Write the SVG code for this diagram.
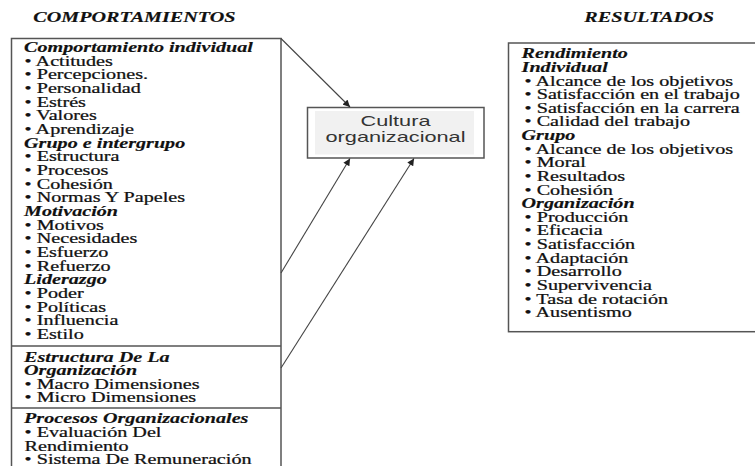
<svg xmlns="http://www.w3.org/2000/svg" width="755" height="466" viewBox="0 0 755 466">
  <defs>
    <marker id="arrow" viewBox="0 0 10 10" refX="10" refY="5" markerWidth="8" markerHeight="7" markerUnits="userSpaceOnUse" orient="auto">
      <path d="M0,0 L10,5 L0,10 z" fill="#222"/>
    </marker>
    <style>
      .t { font-family: "Liberation Serif", "Times New Roman", serif; font-size: 14px; fill: #111; stroke: #111; stroke-width: 0.25; }
      .h { font-weight: bold; font-style: italic; stroke-width: 0.15; }
      .box { fill: #fff; stroke: #555; stroke-width: 1.5; }
      .div { stroke: #555; stroke-width: 1.5; }
      .conn { fill: none; stroke: #444; stroke-width: 1.1; marker-end: url(#arrow); }
      .c { font-family: "Liberation Sans", Arial, sans-serif; font-size: 15px; fill: #333; text-anchor: middle; }
    </style>
  </defs>
  <rect width="755" height="466" fill="#fff"/>

  <!-- column titles -->
  <g id="titles" transform="scale(1.44 1)">
    <text class="t h" x="23.1" y="21.7">COMPORTAMIENTOS</text>
    <text class="t h" x="405.8" y="21.7">RESULTADOS</text>
  </g>

  <!-- left column: behaviour factors -->
  <g id="comportamientos">
    <rect class="box" x="11.5" y="38.5" width="269.5" height="460"/>
    <line class="div" x1="11.5" y1="346" x2="281" y2="346"/>
    <line class="div" x1="11.5" y1="408" x2="281" y2="408"/>
    <g transform="scale(1.44 1)">
      <text class="t h" x="16.7" y="52.2">Comportamiento individual</text>
      <text class="t" x="17.1" y="65.9">• Actitudes</text>
      <text class="t" x="17.1" y="79.5">• Percepciones.</text>
      <text class="t" x="17.1" y="93.2">• Personalidad</text>
      <text class="t" x="17.1" y="106.8">• Estrés</text>
      <text class="t" x="17.1" y="120.5">• Valores</text>
      <text class="t" x="17.1" y="134.2">• Aprendizaje</text>
      <text class="t h" x="16.7" y="147.8">Grupo e intergrupo</text>
      <text class="t" x="17.1" y="161.5">• Estructura</text>
      <text class="t" x="17.1" y="175.1">• Procesos</text>
      <text class="t" x="17.1" y="188.8">• Cohesión</text>
      <text class="t" x="17.1" y="202.5">• Normas Y Papeles</text>
      <text class="t h" x="16.7" y="216.1">Motivación</text>
      <text class="t" x="17.1" y="229.8">• Motivos</text>
      <text class="t" x="17.1" y="243.4">• Necesidades</text>
      <text class="t" x="17.1" y="257.1">• Esfuerzo</text>
      <text class="t" x="17.1" y="270.8">• Refuerzo</text>
      <text class="t h" x="16.7" y="284.4">Liderazgo</text>
      <text class="t" x="17.1" y="298.1">• Poder</text>
      <text class="t" x="17.1" y="311.7">• Políticas</text>
      <text class="t" x="17.1" y="325.4">• Influencia</text>
      <text class="t" x="17.1" y="339.1">• Estilo</text>
      <text class="t h" x="16.7" y="361.7">Estructura De La</text>
      <text class="t h" x="16.7" y="375.2">Organización</text>
      <text class="t" x="17.1" y="388.7">• Macro Dimensiones</text>
      <text class="t" x="17.1" y="402.2">• Micro Dimensiones</text>
      <text class="t h" x="16.7" y="423.5">Procesos Organizacionales</text>
      <text class="t" x="17.1" y="437.2">• Evaluación Del</text>
      <text class="t" x="17.1" y="450.8">Rendimiento</text>
      <text class="t" x="17.1" y="464.5">• Sistema De Remuneración</text>
    </g>
  </g>

  <!-- centre node -->
  <g id="cultura">
    <rect class="box" x="307.5" y="107.5" width="176.5" height="50.5"/>
    <rect x="315" y="111" width="159" height="43.5" fill="#f1f1f1"/>
    <text class="c" x="395.5" y="125.5" textLength="70" lengthAdjust="spacingAndGlyphs">Cultura</text>
    <text class="c" x="395.5" y="141.5" textLength="140" lengthAdjust="spacingAndGlyphs">organizacional</text>
  </g>

  <!-- right column: outcomes -->
  <g id="resultados">
    <rect class="box" x="508.5" y="43" width="260" height="288.7"/>
    <g transform="scale(1.44 1)">
      <text class="t h" x="362.2" y="58.3">Rendimiento</text>
      <text class="t h" x="362.2" y="71.9">Individual</text>
      <text class="t" x="364.3" y="85.6">• Alcance de los objetivos</text>
      <text class="t" x="364.3" y="99.2">• Satisfacción en el trabajo</text>
      <text class="t" x="364.3" y="112.8">• Satisfacción en la carrera</text>
      <text class="t" x="364.3" y="126.5">• Calidad del trabajo</text>
      <text class="t h" x="362.2" y="140.1">Grupo</text>
      <text class="t" x="364.3" y="153.7">• Alcance de los objetivos</text>
      <text class="t" x="364.3" y="167.3">• Moral</text>
      <text class="t" x="364.3" y="181.0">• Resultados</text>
      <text class="t" x="364.3" y="194.6">• Cohesión</text>
      <text class="t h" x="362.2" y="208.2">Organización</text>
      <text class="t" x="364.3" y="221.9">• Producción</text>
      <text class="t" x="364.3" y="235.5">• Eficacia</text>
      <text class="t" x="364.3" y="249.1">• Satisfacción</text>
      <text class="t" x="364.3" y="262.8">• Adaptación</text>
      <text class="t" x="364.3" y="276.4">• Desarrollo</text>
      <text class="t" x="364.3" y="290.0">• Supervivencia</text>
      <text class="t" x="364.3" y="303.7">• Tasa de rotación</text>
      <text class="t" x="364.3" y="317.3">• Ausentismo</text>
    </g>
  </g>

  <!-- connectors -->
  <g id="connectors">
    <line class="conn" x1="281" y1="38.5" x2="350" y2="107"/>
    <line class="conn" x1="281" y1="273" x2="350" y2="158.5"/>
    <line class="conn" x1="281" y1="368" x2="414" y2="158.5"/>
  </g>
</svg>
